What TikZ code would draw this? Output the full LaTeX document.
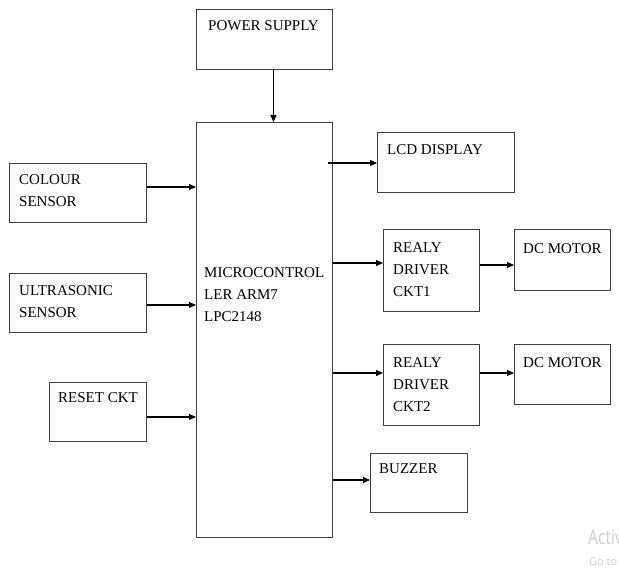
\documentclass[tikz,border=0pt]{standalone}
\usepackage{fontspec}
\setmainfont{Liberation Serif}
\newfontfamily\wmfont{Open Sans}
\usetikzlibrary{arrows.meta}
\begin{document}
\begin{tikzpicture}[x=1pt,y=-1pt,
  blk/.style={draw=black!75, line width=0.9pt, inner sep=0pt, anchor=north west},
  txt/.style={inner sep=0pt, anchor=north west, align=left, font=\fontsize{15}{22}\selectfont},
  arr/.style={draw=black, line width=1.1pt, -{Triangle[length=7pt,width=6pt]}}]
\useasboundingbox (0,0) rectangle (619,572);
\fill[white] (0,0) rectangle (619,572);
% boxes
\node[blk, minimum width=136pt, minimum height=60pt] (ps) at (196,9) {};
\node[blk, minimum width=136pt, minimum height=415pt] (mc) at (196,122) {};
\node[blk, minimum width=137pt, minimum height=59pt] (cs) at (9,163) {};
\node[blk, minimum width=137pt, minimum height=59pt] (us) at (9,273) {};
\node[blk, minimum width=97pt, minimum height=59pt] (rs) at (49,382) {};
\node[blk, minimum width=137pt, minimum height=60pt] (lcd) at (377,132) {};
\node[blk, minimum width=96pt, minimum height=82pt] (r1) at (383,229) {};
\node[blk, minimum width=96pt, minimum height=61pt] (m1) at (514,229) {};
\node[blk, minimum width=96pt, minimum height=81pt] (r2) at (383,344) {};
\node[blk, minimum width=96pt, minimum height=60pt] (m2) at (514,344) {};
\node[blk, minimum width=97pt, minimum height=59pt] (bz) at (370,453) {};
% texts
\node[txt] (pst) at (208,20) {POWER SUPPLY};
\node[txt] (mct) at (204,267) {MICROCONTROL\\LER ARM7\\LPC2148};
\node[txt] (cst) at (19,174) {COLOUR\\SENSOR};
\node[txt] (ust) at (19,285) {ULTRASONIC\\SENSOR};
\node[txt] (rst) at (58,392) {RESET CKT};
\node[txt] (lcdt) at (387,144) {LCD DISPLAY};
\node[txt] (r1t) at (393,242) {REALY\\DRIVER\\CKT1};
\node[txt] (m1t) at (523,243) {DC MOTOR};
\node[txt] (r2t) at (393,357) {REALY\\DRIVER\\CKT2};
\node[txt] (m2t) at (523,357) {DC MOTOR};
\node[txt] (bzt) at (379,463) {BUZZER};
% connectors
\coordinate (lcdin) at (328,163);
\draw[arr] ([xshift=9pt]ps.south) -- ([xshift=9pt]mc.north);
\draw[arr] (cs.east |- 0,187) -- (mc.west |- 0,187);
\draw[arr] (us.east |- 0,305) -- (mc.west |- 0,305);
\draw[arr] (rs.east |- 0,417) -- (mc.west |- 0,417);
\draw[arr] (lcdin) -- (lcd.west |- lcdin);
\draw[arr] (mc.east |- 0,263) -- (r1.west |- 0,263);
\draw[arr] (r1.east |- 0,265) -- (m1.west |- 0,265);
\draw[arr] (mc.east |- 0,373) -- (r2.west |- 0,373);
\draw[arr] (r2.east |- 0,373) -- (m2.west |- 0,373);
\draw[arr] (mc.east |- 0,480) -- (bz.west |- 0,480);
% watermark
\node[anchor=north west, inner sep=0pt, text=black!20, font=\wmfont\fontsize{20}{20}\selectfont] (wm1) at (588,530) {\scalebox{0.78}[1]{Activ}};
\node[anchor=north west, inner sep=0pt, text=black!20, font=\wmfont\fontsize{11}{11}\selectfont] (wm2) at (589,557) {Go to};
\end{tikzpicture}
\end{document}
